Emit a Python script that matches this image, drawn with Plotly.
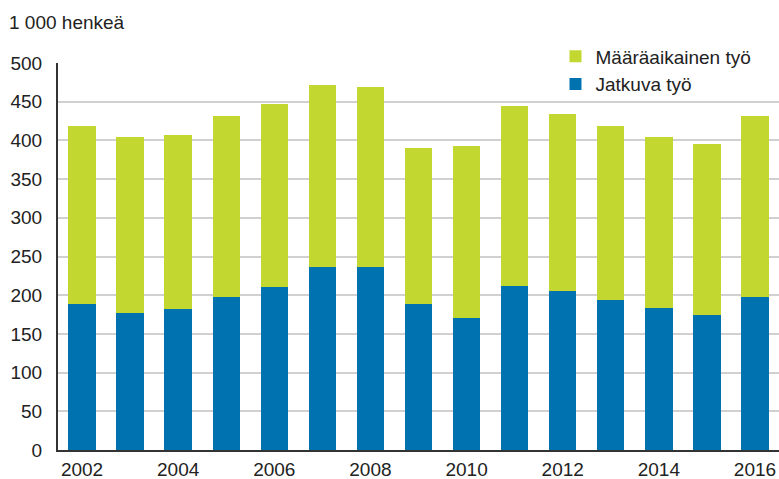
import plotly.graph_objects as go

years = list(range(2002, 2017))
total = [418, 405, 407, 432, 447, 472, 469, 390, 393, 445, 434, 418, 405, 395, 432]
jatkuva = [188, 177, 182, 198, 210, 237, 237, 188, 171, 212, 206, 194, 183, 175, 198]
maaraaikainen = [t - j for t, j in zip(total, jatkuva)]
tick_years = [2002, 2004, 2006, 2008, 2010, 2012, 2014, 2016]
y_ticks = list(range(0, 501, 50))

FONT = "Liberation Sans, Arial, sans-serif"
TXT = "#222222"
FS = 19

fig = go.Figure()
fig.add_trace(go.Bar(x=years, y=jatkuva, name="Jatkuva työ",
                     marker=dict(color="#0072B0", line=dict(width=0))))
fig.add_trace(go.Bar(x=years, y=maaraaikainen, name="Määräaikainen työ",
                     marker=dict(color="#C2D730", line=dict(width=0))))

fig.update_layout(
    width=779, height=479,
    barmode="stack", bargap=0.43,
    margin=dict(l=58, r=0, t=63, b=29, autoexpand=False),
    paper_bgcolor="white", plot_bgcolor="white",
    font=dict(family=FONT, size=FS, color=TXT),
    showlegend=True,
    legend=dict(traceorder="reversed", x=0.69, y=1.066, xanchor="left", yanchor="top",
                bgcolor="rgba(0,0,0,0)", font=dict(size=FS, color=TXT),
                itemwidth=30, tracegroupgap=0),
    annotations=[dict(text="1 000 henkeä", xref="paper", yref="paper",
                      x=-51/721, y=(450-22)/387, xanchor="left", yanchor="middle",
                      showarrow=False, font=dict(size=FS, color=TXT))],
    # white patch behind the legend that masks the top gridline, as in the reference
    shapes=[dict(type="rect", xref="paper", yref="paper", x0=500/721, x1=717/721,
                 y0=0.98, y1=1.03, fillcolor="white", line=dict(width=0), layer="below")],
)
fig.update_xaxes(range=[2001.5, 2016.5], tickvals=tick_years, ticktext=[str(y) for y in tick_years],
                 showgrid=False, showline=True, linecolor="#333333", linewidth=2,
                 ticks="", ticklabelstandoff=1)
fig.update_yaxes(range=[0, 500], tickvals=y_ticks, showgrid=True, gridcolor="#d0d0d0",
                 gridwidth=1.5, showline=True, linecolor="#333333", linewidth=2,
                 ticks="", zeroline=False, ticklabelstandoff=10)

fig.write_html("out.html", config={"displayModeBar": False},
               post_script="document.body.style.margin='0';document.body.style.overflow='hidden';")
